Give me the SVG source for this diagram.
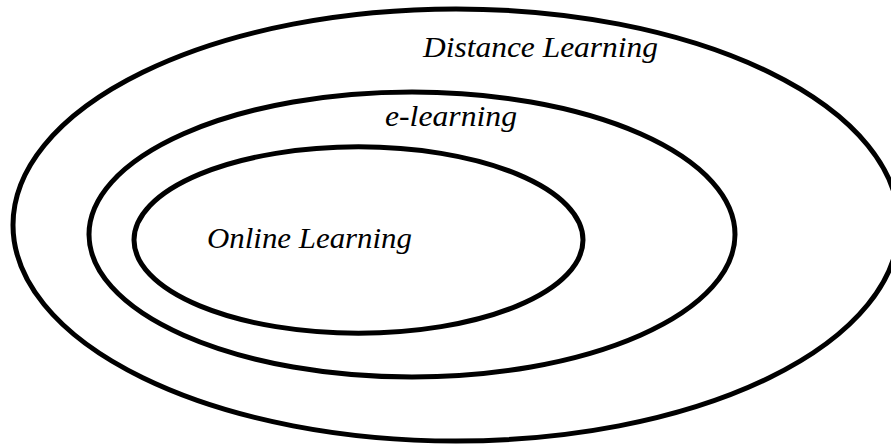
<svg xmlns="http://www.w3.org/2000/svg" width="891" height="446" viewBox="0 0 891 446">
<style>
.e{fill:none;stroke:#000;stroke-width:5}
.t{font-family:"Liberation Serif",serif;font-style:italic;font-size:29px;fill:#000}
</style>
<rect width="891" height="446" fill="#fff"/>
<g id="distance-learning">
<ellipse class="e" cx="456" cy="225" rx="443" ry="216"/>
<text class="t" x="423" y="57" textLength="235" lengthAdjust="spacingAndGlyphs">Distance Learning</text>
</g>
<g id="e-learning">
<ellipse class="e" cx="412" cy="234.5" rx="323" ry="142.5"/>
<text class="t" x="385" y="126" textLength="132" lengthAdjust="spacingAndGlyphs">e-learning</text>
</g>
<g id="online-learning">
<ellipse class="e" cx="358.5" cy="240" rx="224.5" ry="93.2"/>
<text class="t" x="207" y="248" textLength="205" lengthAdjust="spacingAndGlyphs">Online Learning</text>
</g>
<g id="connectors"/>
</svg>
